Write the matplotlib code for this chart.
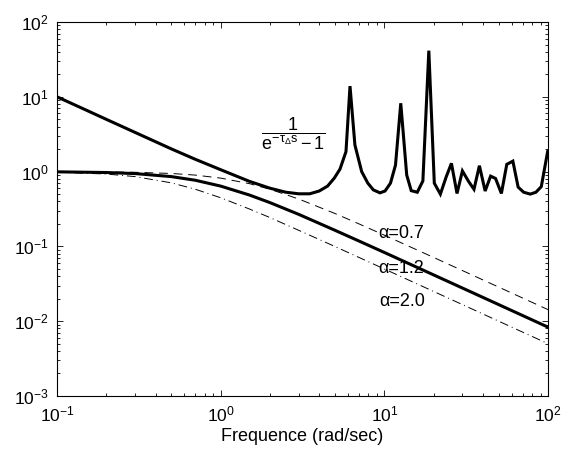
import matplotlib

matplotlib.use("Agg")
import matplotlib.pyplot as plt

plt.rcParams["font.family"] = ["Liberation Sans", "DejaVu Sans"]
plt.rcParams["mathtext.fontset"] = "custom"
plt.rcParams["mathtext.rm"] = "Liberation Sans"
plt.rcParams["mathtext.it"] = "Liberation Sans"
plt.rcParams["mathtext.sf"] = "Liberation Sans"

# 1 / (e^{-tau s} - 1) (coarse log sampling)
freq_delay = [0.1, 0.15, 0.2, 0.3, 0.5, 0.7, 1.0, 1.5, 2.0, 2.5, 3.0, 3.5, 4.0,
              4.5, 4.95, 5.36, 5.83, 6.17, 6.61, 7.27, 7.93, 8.56, 9.4, 10.1,
              10.9, 11.7, 12.6, 13.7, 14.6, 15.9, 17.2, 18.7, 20.2, 22.0, 23.9,
              25.7, 27.8, 30.0, 32.7, 35.3, 38.1, 41.3, 44.6, 47.8, 51.9, 56.0,
              61.0, 65.7, 71.0, 77.9, 84.4, 91.0, 99.5]
mag_delay = [10.0, 6.67, 5.0, 3.34, 2.01, 1.46, 1.06, 0.74, 0.60, 0.53, 0.505,
             0.505, 0.55, 0.64, 0.82, 1.08, 1.85, 13.9, 2.27, 1.0, 0.70, 0.57,
             0.52, 0.55, 0.70, 1.22, 8.2, 0.90, 0.556, 0.53, 0.75, 41.4, 0.70,
             0.50, 0.855, 1.29, 0.51, 1.02, 0.74, 0.58, 1.2, 0.55, 0.87, 0.81,
             0.51, 1.25, 1.38, 0.62, 0.53, 0.50, 0.53, 0.63, 1.85]

# first-order curves for alpha = 0.7, 1.2, 2.0
freq_alpha = [0.1, 0.2, 0.3, 0.5, 0.7, 1.0, 1.5, 2.0, 3.0, 5.0, 7.0, 10.0,
              20.0, 50.0, 100.0]
mag_a07 = [0.9976, 0.990, 0.979, 0.944, 0.898, 0.819, 0.690, 0.581, 0.430,
           0.275, 0.200, 0.1414, 0.0712, 0.02856, 0.01428]
mag_a12 = [0.993, 0.972, 0.941, 0.857, 0.766, 0.640, 0.486, 0.385, 0.268,
           0.164, 0.118, 0.0830, 0.0416, 0.01666, 0.00833]
mag_a20 = [0.981, 0.928, 0.857, 0.707, 0.581, 0.447, 0.316, 0.243, 0.164,
           0.0995, 0.0712, 0.0499, 0.0250, 0.0100, 0.0050]

fig = plt.figure(figsize=(5.64, 4.57), dpi=100)
ax = fig.add_axes([57 / 564, 1 - 396 / 457, 491 / 564, 374 / 457])

ax.loglog(freq_delay, mag_delay, color="black", lw=2.2, solid_joinstyle="miter")
ax.loglog(freq_alpha, mag_a07, color="black", lw=0.7, dashes=(9, 6))
ax.loglog(freq_alpha, mag_a12, color="black", lw=2.2)
ax.loglog(freq_alpha, mag_a20, color="black", lw=0.7, dashes=(9, 4, 1, 4))

ax.set_xlim(0.1, 100)
ax.set_ylim(1e-3, 1e2)

ax.text(2.8, 3.25, r"$\dfrac{1}{e^{-\tau_{\Delta} s}-1}$", fontsize=13,
        ha="center", va="center")
ax.text(9.14, 0.151, "α=0.7", fontsize=13, va="center")
ax.text(9.14, 0.0514, "α=1.2", fontsize=13, va="center")
ax.text(9.3, 0.0186, "α=2.0", fontsize=13, va="center")

ax.set_xlabel("Frequence (rad/sec)", fontsize=13, labelpad=3)
ax.tick_params(which="both", direction="in", top=True, right=True,
               labelsize=12.5, width=0.6)
ax.tick_params(which="major", length=4, pad=6)
ax.tick_params(which="minor", length=2)
for spine in ax.spines.values():
    spine.set_linewidth(0.8)

fig.savefig("out.png", dpi=100)
